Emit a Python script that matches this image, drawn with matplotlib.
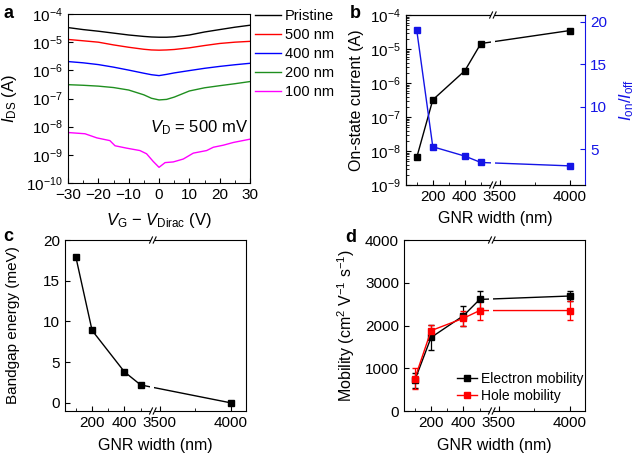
import numpy as np
import matplotlib
matplotlib.use('Agg')
import matplotlib.pyplot as plt
from matplotlib.patches import Rectangle
from matplotlib.ticker import MultipleLocator, LogLocator

# ---- panel a: transfer curves ----
vg = [-30, -25, -20, -15, -10, -5, -2.5, 0, 2.5, 5, 10, 15, 20, 25, 30]
ids_pristine = [3.3e-5, 2.8e-5, 2.45e-5, 2.1e-5, 1.8e-5, 1.6e-5, 1.53e-5, 1.5e-5,
                1.5e-5, 1.55e-5, 1.8e-5, 2.3e-5, 2.8e-5, 3.4e-5, 4.0e-5]
ids_500 = [1.25e-5, 1.12e-5, 1.0e-5, 8.0e-6, 6.6e-6, 5.6e-6, 5.3e-6, 5.2e-6,
           5.3e-6, 5.5e-6, 6.3e-6, 7.6e-6, 9.0e-6, 1.0e-5, 1.07e-5]
ids_400 = [2.05e-6, 1.85e-6, 1.6e-6, 1.3e-6, 1.02e-6, 7.9e-7, 7.0e-7, 6.5e-7,
           7.2e-7, 8.1e-7, 9.8e-7, 1.18e-6, 1.38e-6, 1.58e-6, 1.78e-6]
ids_200 = [3.1e-7, 2.95e-7, 2.75e-7, 2.45e-7, 2.0e-7, 1.35e-7, 1.02e-7, 8.9e-8,
           9.3e-8, 1.12e-7, 1.85e-7, 2.4e-7, 2.85e-7, 3.35e-7, 4.0e-7]
vg_100 = [-30, -24.4, -20.5, -16.2, -14.5, -10.7, -6.3, -4.1, -1.9, 0, 2.0, 4.7,
          8.0, 11.3, 15.7, 17.9, 21.2, 24.5, 30]
ids_100 = [6.2e-9, 5.6e-9, 4.0e-9, 3.2e-9, 2.1e-9, 1.73e-9, 1.42e-9, 1.09e-9, 5.8e-10,
           3.6e-10, 5.3e-10, 5.6e-10, 7.1e-10, 1.15e-9, 1.42e-9, 1.86e-9, 2.2e-9, 2.75e-9, 3.6e-9]
curve_labels = ['Pristine', '500 nm', '400 nm', '200 nm', '100 nm']
curve_colors = ['black', '#ff0000', '#0000ff', '#1f8f1f', '#ff00ff']

# ---- panels b, c, d: vs GNR width ----
gnr_width = [100, 200, 400, 500, 4000]
on_current = [6.5e-9, 3.2e-7, 2.3e-6, 1.45e-5, 3.5e-5]
on_off = [19.0, 5.3, 4.2, 3.45, 3.05]
bandgap = [17.9, 8.9, 3.8, 2.2, 0.0]
mu_e = [720, 1720, 2230, 2610, 2690]
mu_e_err = [180, 290, 230, 190, 110]
mu_h = [760, 1880, 2170, 2350, 2350]
mu_h_err = [250, 130, 170, 220, 230]

plt.rcParams['font.family'] = ['Liberation Sans', 'DejaVu Sans']
plt.rcParams['mathtext.fontset'] = 'custom'
plt.rcParams['mathtext.rm'] = 'Liberation Sans'
plt.rcParams['mathtext.it'] = 'Liberation Sans:italic'
plt.rcParams['mathtext.bf'] = 'Liberation Sans:bold'
plt.rcParams['font.size'] = 11
plt.rcParams['xtick.labelsize'] = 11
plt.rcParams['ytick.labelsize'] = 11
plt.rcParams['xtick.direction'] = 'in'
plt.rcParams['ytick.direction'] = 'in'
plt.rcParams['xtick.major.size'] = 3.5
plt.rcParams['ytick.major.size'] = 3.5
plt.rcParams['xtick.minor.size'] = 2
plt.rcParams['ytick.minor.size'] = 2
plt.rcParams['axes.linewidth'] = 0.8

# broken x axis: same scale on both sides, gap between 575 and 3450
BRK_LO, BRK_HI, RIGHT_K = 575.0, 3450.0, 0.875


def fwd(x):
    x = np.asarray(x, float)
    return np.where(x <= BRK_LO, x,
                    np.where(x >= BRK_HI, BRK_LO + RIGHT_K * (x - BRK_HI), BRK_LO))


def inv(y):
    y = np.asarray(y, float)
    return np.where(y <= BRK_LO, y, BRK_HI + (y - BRK_LO) / RIGHT_K)


def setup_width_axis(ax):
    ax.set_xscale('function', functions=(fwd, inv))
    ax.set_xlim(33, 4107)
    ax.set_xticks([200, 400, 3500, 4000])
    ax.set_xticks([100, 300, 500, 3750], minor=True)
    ax.set_xticklabels(['200', '400', '3500', '4000'])
    ax.set_xlabel('GNR width (nm)', fontsize=11.5)
    ax.xaxis.set_label_coords(0.5, -0.155)


def draw_break(ax):
    lo, hi = fwd(33), fwd(4107)
    xb = float((BRK_LO - lo) / (hi - lo))
    # gap in data lines
    ax.add_patch(Rectangle((xb - 0.013, 0), 0.022, 1, transform=ax.transAxes,
                           fc='white', ec='none', zorder=2.3))
    for yy in (0, 1):
        ax.add_patch(Rectangle((xb - 0.01, yy - 0.01), 0.02, 0.02, transform=ax.transAxes,
                               fc='white', ec='none', zorder=3, clip_on=False))
        for dx in (-0.01, 0.01):
            ax.plot([xb + dx - 0.008, xb + dx + 0.008], [yy - 0.018, yy + 0.018],
                    color='black', lw=0.8, transform=ax.transAxes, clip_on=False, zorder=4)


fig = plt.figure(figsize=(6.38, 4.55), dpi=100)
axa = fig.add_axes([0.1066, 0.5978, 0.2853, 0.3714])
axb = fig.add_axes([0.6364, 0.5934, 0.2806, 0.3736])
axc = fig.add_axes([0.1019, 0.0967, 0.2837, 0.3758])
axd = fig.add_axes([0.6332, 0.0967, 0.2837, 0.3758])

# ---- a ----
series = [ids_pristine, ids_500, ids_400, ids_200]
for ys, lab, col in zip(series, curve_labels[:4], curve_colors[:4]):
    axa.plot(vg, ys, color=col, lw=1.0, label=lab)
axa.plot(vg_100, ids_100, color=curve_colors[4], lw=1.0, label=curve_labels[4])
axa.set_yscale('log')
axa.set_ylim(1e-10, 1e-4)
axa.yaxis.set_major_locator(LogLocator(base=10, numticks=20))
axa.set_xlim(-30, 30)
axa.set_xticks([-30, -20, -10, 0, 10, 20, 30])
axa.xaxis.set_minor_locator(MultipleLocator(5))
axa.set_ylabel(r'$I_{\rm DS}$ (A)', fontsize=12)
axa.yaxis.set_label_coords(-0.27, 0.5)
axa.set_xlabel(r'$V_{\rm G}$ − $V_{\rm Dirac}$ (V)', fontsize=12)
axa.xaxis.set_label_coords(0.5, -0.163)
axa.text(0.99, 0.325, r'$V_{\rm D}$ = 500 mV', transform=axa.transAxes,
         ha='right', va='center', fontsize=12)
axa.legend(loc='upper left', bbox_to_anchor=(1.027, 1.03), frameon=False,
           borderaxespad=0, borderpad=0, handlelength=1.8, handletextpad=0.25,
           labelspacing=0.35, fontsize=10.5)

# ---- b ----
axb.plot(gnr_width, on_current, color='black', marker='s', ms=4.5, lw=1.0)
axb.set_yscale('log')
axb.set_ylim(1e-9, 1e-4)
axb.yaxis.set_major_locator(LogLocator(base=10, numticks=20))
axb.set_ylabel('On-state current (A)', fontsize=11.5)
axb.yaxis.set_label_coords(-0.235, 0.5)
axb.spines['right'].set_visible(False)
setup_width_axis(axb)
axb2 = axb.twinx()
axb2.plot(gnr_width, on_off, color='#1414e6', marker='s', ms=4.5, lw=1.0)
axb2.set_ylim(0.8, 20.8)
axb2.set_yticks([5, 10, 15, 20])
axb2.spines['right'].set_color('#1414e6')
axb2.tick_params(axis='y', colors='#1414e6')
axb2.set_ylabel(r'$I_{\rm on}/I_{\rm off}$', color='#1414e6', fontsize=12)
axb2.yaxis.set_label_coords(1.179, 0.5)
draw_break(axb2)

# ---- c ----
axc.plot(gnr_width, bandgap, color='black', marker='s', ms=4.5, lw=1.0)
axc.set_ylim(-1, 20)
axc.set_yticks([0, 5, 10, 15, 20])
axc.set_ylabel('Bandgap energy (meV)', fontsize=11)
axc.yaxis.set_label_coords(-0.249, 0.5)
setup_width_axis(axc)
draw_break(axc)

# ---- d ----
axd.errorbar(gnr_width, mu_e, yerr=mu_e_err, fmt='none', ecolor='black',
             capsize=2, elinewidth=0.9)
axd.errorbar(gnr_width, mu_h, yerr=mu_h_err, fmt='none', ecolor='#ff0000',
             capsize=2, elinewidth=0.9)
axd.plot(gnr_width, mu_e, color='black', marker='s', ms=4.5, lw=1.0,
         label='Electron mobility')
axd.plot(gnr_width, mu_h, color='#ff0000', marker='s', ms=4.5, lw=1.0,
         label='Hole mobility')
axd.set_ylim(0, 4000)
axd.set_yticks([0, 1000, 2000, 3000, 4000])
axd.set_ylabel(r'Mobility (cm$^2$ V$^{-1}$ s$^{-1}$)', fontsize=11.5)
axd.yaxis.set_label_coords(-0.26, 0.5)
setup_width_axis(axd)
draw_break(axd)
axd.legend(loc='upper left', bbox_to_anchor=(0.295, 0.228), frameon=False,
           borderaxespad=0, borderpad=0, handlelength=1.4, handletextpad=0.3,
           labelspacing=0.2, fontsize=10)

# panel letters
for x, y, s in [(3, 18, 'a'), (350, 18, 'b'), (3, 241, 'c'), (345, 242, 'd')]:
    fig.text(x / 638, 1 - y / 455, s, fontsize=13, fontweight='bold', va='baseline')

fig.savefig('out.png', dpi=100)
